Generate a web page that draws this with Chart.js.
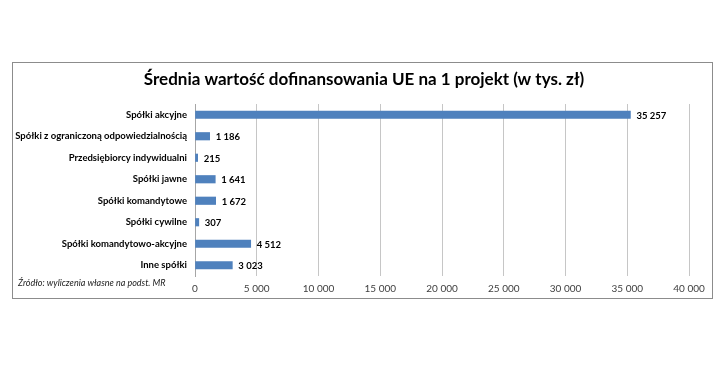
<!DOCTYPE html>
<html><head><meta charset="utf-8">
<script src="https://cdn.jsdelivr.net/npm/chart.js@4/dist/chart.umd.min.js"></script>
<style>html,body{margin:0;padding:0;background:#fff}#c{display:block}</style>
</head><body>
<canvas id="c" width="728" height="384"></canvas>
<script>
const titleText = 'Średnia wartość dofinansowania UE na 1 projekt (w tys. zł)';
const sourceText = 'Źródło: wyliczenia własne na podst. MR';
const categories = ['Spółki akcyjne','Spółki z ograniczoną odpowiedzialnością','Przedsiębiorcy indywidualni','Spółki jawne','Spółki komandytowe','Spółki cywilne','Spółki komandytowo-akcyjne','Inne spółki'];
const values = [35257, 1186, 215, 1641, 1672, 307, 4512, 3023];
const xMin = 0, xMax = 40000, xStep = 5000;
const FONT = 'Lato, "Open Sans", sans-serif';
const fmt = v => String(Math.round(v)).replace(/\B(?=(\d{3})+(?!\d))/g, ' ');

const deco = {
  id: 'deco',
  beforeDraw(chart) {
    const ctx = chart.ctx;
    ctx.save();
    ctx.fillStyle = '#fff';
    ctx.fillRect(0, 0, chart.width, chart.height);
    ctx.strokeStyle = '#8c8c8c';
    ctx.lineWidth = 1;
    ctx.strokeRect(12.5, 62.5, 700, 236);
    ctx.fillStyle = '#000';
    ctx.font = 'bold 17px ' + FONT;
    ctx.textAlign = 'center';
    ctx.textBaseline = 'middle';
    ctx.fillText(titleText, 364, 80);
    ctx.font = 'italic 9px ' + FONT;
    ctx.textAlign = 'left';
    ctx.fillStyle = '#222';
    ctx.fillText(sourceText, 18, 283);
    ctx.restore();
  },
  afterDatasetsDraw(chart) {
    const ctx = chart.ctx;
    const meta = chart.getDatasetMeta(0);
    ctx.save();
    ctx.font = 'bold 9.5px ' + FONT;
    ctx.fillStyle = '#000';
    ctx.textAlign = 'left';
    ctx.textBaseline = 'middle';
    meta.data.forEach((el, i) => {
      ctx.fillText(fmt(values[i]), el.x + 6, el.y + 1);
    });
    ctx.restore();
  }
};

new Chart(document.getElementById('c'), {
  type: 'bar',
  data: { labels: categories, datasets: [{ data: values, backgroundColor: '#4F81BD', borderWidth: 0, barThickness: 7.5 }] },
  options: {
    indexAxis: 'y',
    responsive: false,
    animation: false,
    layout: { padding: { top: 104, right: 39, left: 0, bottom: 0 } },
    plugins: { legend: { display: false }, tooltip: { enabled: false }, title: { display: false } },
    scales: {
      x: {
        min: xMin, max: xMax,
        ticks: { stepSize: xStep, callback: v => fmt(v), font: { family: FONT, size: 10 }, color: '#404040', padding: 7 },
        grid: { color: '#c6c6c6', drawTicks: false, lineWidth: 1 },
        border: { display: false },
        afterFit: s => { s.height = 384 - 276; }
      },
      y: {
        ticks: { font: { family: FONT, size: 9.5, weight: 'bold' }, color: '#000', padding: 8, autoSkip: false },
        grid: { display: false, drawTicks: false },
        border: { display: true, color: '#a6a6a6' },
        afterFit: s => { s.width = 195; }
      }
    }
  },
  plugins: [deco]
});
</script>
</body></html>
